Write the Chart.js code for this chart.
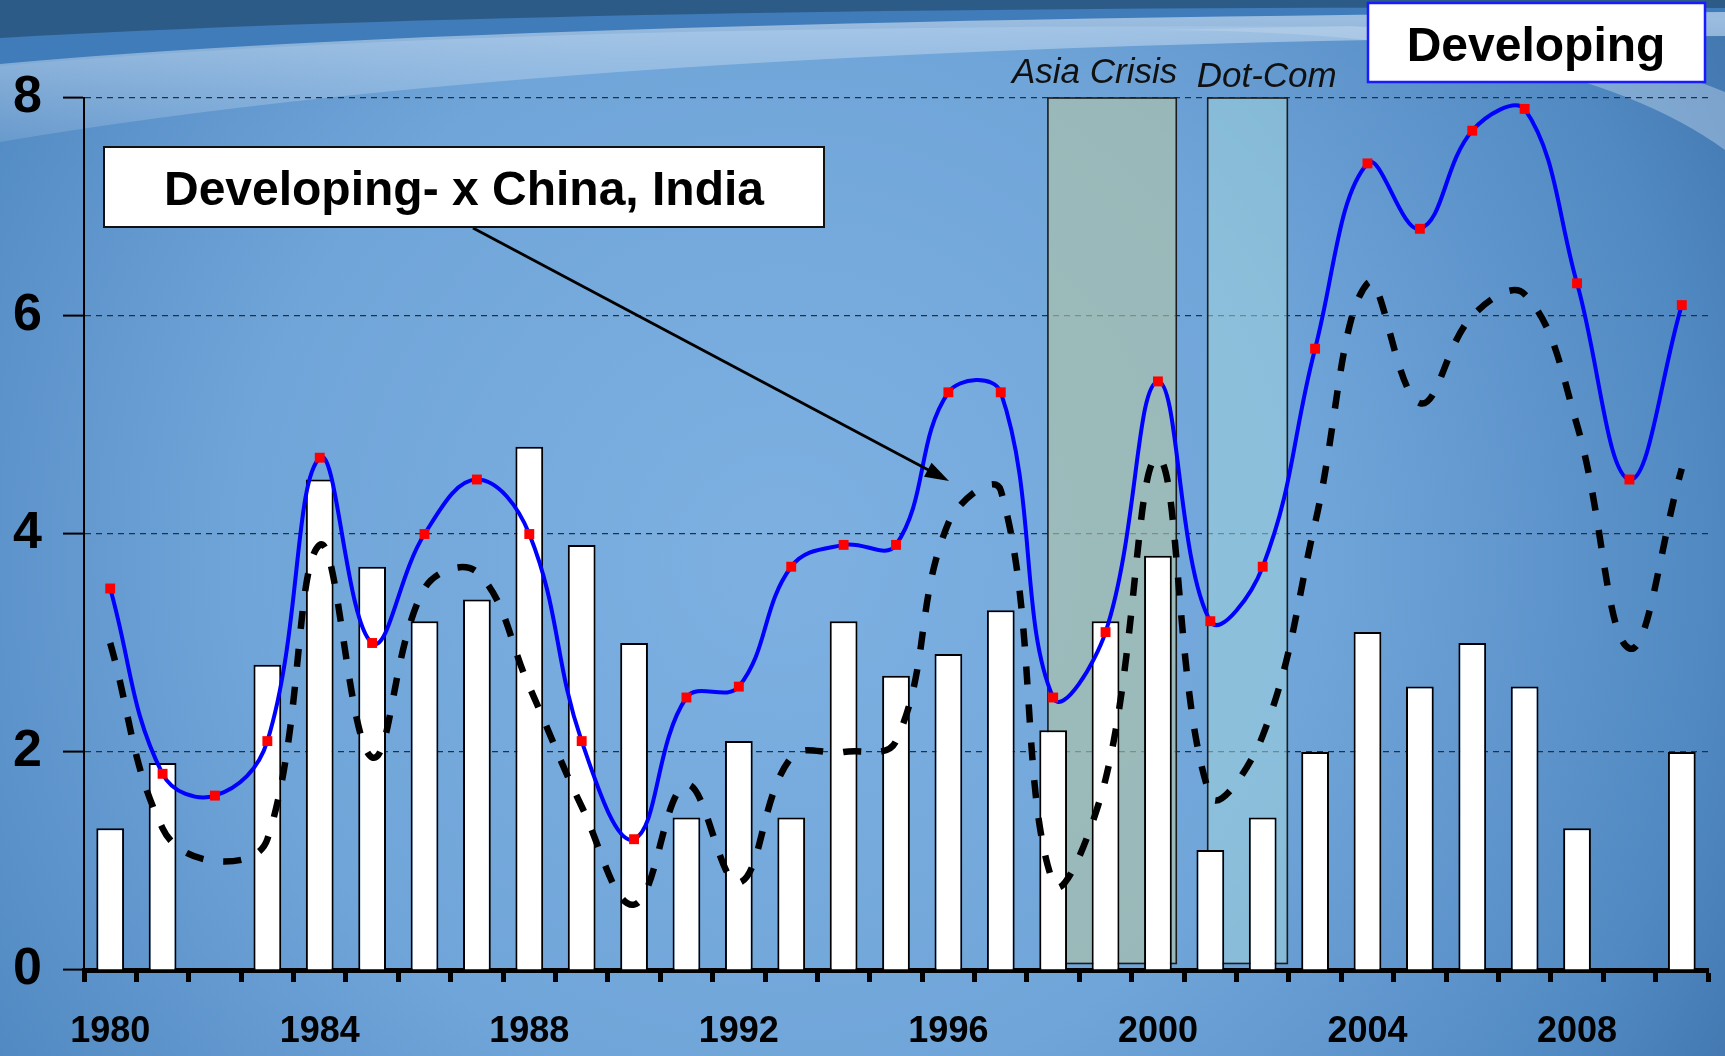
<!DOCTYPE html>
<html><head><meta charset="utf-8">
<script src="https://cdn.jsdelivr.net/npm/chart.js@4/dist/chart.umd.min.js"></script>
<style>html,body{margin:0;padding:0;background:#6a9fd4;overflow:hidden}canvas{display:block}</style>
</head><body>
<canvas id="c" width="1725" height="1056"></canvas>
<script>
// ---------- data ----------
const years = ['1980','1981','1982','1983','1984','1985','1986','1987','1988','1989',
               '1990','1991','1992','1993','1994','1995','1996','1997','1998','1999',
               '2000','2001','2002','2003','2004','2005','2006','2007','2008','2009','2010'];
const barValues = [1.3, 1.9, null, 2.8, 4.5, 3.7, 3.2, 3.4, 4.8, 3.9,
                   3.0, 1.4, 2.1, 1.4, 3.2, 2.7, 2.9, 3.3, 2.2, 3.2,
                   3.8, 1.1, 1.4, 2.0, 3.1, 2.6, 3.0, 2.6, 1.3, null, 2.0];
const developing = [3.5, 1.8, 1.6, 2.1, 4.7, 3.0, 4.0, 4.5, 4.0, 2.1,
                    1.2, 2.5, 2.6, 3.7, 3.9, 3.9, 5.3, 5.3, 2.5, 3.1,
                    5.4, 3.2, 3.7, 5.7, 7.4, 6.8, 7.7, 7.9, 6.3, 4.5, 6.1];
const devExChinaIndia = [3.0, 1.3, 1.0, 1.2, 3.9, 1.95, 3.5, 3.65, 2.6, 1.5,
                         0.6, 1.7, 0.8, 1.95, 2.0, 2.1, 4.1, 4.4, 0.8, 1.75,
                         4.7, 1.6, 2.15, 4.1, 6.3, 5.2, 6.0, 6.2, 5.0, 2.95, 4.6];
const yTicks = [0, 2, 4, 6, 8];
const labelEvery = 4;
const crisisNames = ['Asia Crisis', 'Dot-Com'];
const crisisFrom = [1997.9, 2000.95];
const crisisTo = [2000.35, 2002.47];
const crisisTop = [8, 8];
const annotationText = 'Developing- x China, India';
const titleText = 'Developing';

// ---------- styles ----------
const FONT = '"Liberation Sans", Arial, sans-serif';
const crisisFill = ['rgba(176,196,168,0.64)', 'rgba(160,212,218,0.55)'];

const bgPlugin = {
  id: 'bg',
  beforeDraw(chart) {
    const ctx = chart.ctx, W = chart.width, H = chart.height;
    ctx.save();
    const g = ctx.createRadialGradient(780, 560, 40, 780, 560, 1150);
    g.addColorStop(0, '#7db0e1');
    g.addColorStop(0.45, '#70a5d9');
    g.addColorStop(0.8, '#5189c2');
    g.addColorStop(1, '#3c70a8');
    ctx.fillStyle = g; ctx.fillRect(0, 0, W, H);
    // medium strip
    ctx.beginPath(); ctx.moveTo(0, 0); ctx.lineTo(W, 0); ctx.lineTo(W, 30);
    ctx.quadraticCurveTo(600, 14, 0, 66); ctx.closePath();
    ctx.fillStyle = '#3f7cb9'; ctx.fill();
    // dark band
    ctx.beginPath(); ctx.moveTo(0, 0); ctx.lineTo(W, 0); ctx.lineTo(W, 8);
    ctx.quadraticCurveTo(600, 4, 0, 38); ctx.closePath();
    ctx.fillStyle = '#2d5b88'; ctx.fill();
    // light swoosh
    ctx.beginPath(); ctx.moveTo(0, 64); ctx.quadraticCurveTo(500, 18, W, 12);
    ctx.lineTo(W, 36); ctx.quadraticCurveTo(600, 40, 0, 142); ctx.closePath();
    const g2 = ctx.createLinearGradient(0, 20, 0, 140);
    g2.addColorStop(0, 'rgba(185,210,235,0.75)');
    g2.addColorStop(1, 'rgba(170,200,232,0.25)');
    ctx.fillStyle = g2; ctx.fill();
    // right arc
    ctx.beginPath(); ctx.moveTo(1150, 30); ctx.quadraticCurveTo(1560, 30, W, 150);
    ctx.lineTo(W, 92); ctx.quadraticCurveTo(1600, 40, 1350, 26); ctx.closePath();
    ctx.fillStyle = 'rgba(190,212,236,0.45)'; ctx.fill();
    ctx.restore();
  }
};

const annotPlugin = {
  id: 'annot',
  beforeDatasetsDraw(chart) {
    const {ctx, scales: {x, y}} = chart;
    const y0year = Number(years[0]);
    ctx.save();
    crisisFrom.forEach((f, i) => {
      const xa = x.getPixelForValue(f - y0year);
      const xb = x.getPixelForValue(crisisTo[i] - y0year);
      const ya = y.getPixelForValue(crisisTop[i]);
      const yb = y.getPixelForValue(0.06);
      ctx.fillStyle = crisisFill[i];
      ctx.fillRect(xa, ya, xb - xa, yb - ya);
      ctx.strokeStyle = '#1c1c1c'; ctx.lineWidth = 1.6;
      ctx.strokeRect(xa, ya, xb - xa, yb - ya);
    });
    ctx.font = 'italic 35px ' + FONT;
    ctx.fillStyle = '#111';
    ctx.textBaseline = 'alphabetic';
    ctx.textAlign = 'right';
    ctx.fillText(crisisNames[0], x.getPixelForValue(crisisTo[0] - y0year) + 1, 83);
    ctx.textAlign = 'left';
    ctx.fillText(crisisNames[1], x.getPixelForValue(crisisFrom[1] - y0year) - 11, 87);
    ctx.restore();
  },
  afterDatasetsDraw(chart) {
    const ctx = chart.ctx;
    ctx.save();
    // arrow
    const ax0 = 473, ay0 = 228, ax1 = 949, ay1 = 481;
    const ang = Math.atan2(ay1 - ay0, ax1 - ax0);
    ctx.strokeStyle = '#000'; ctx.lineWidth = 2.8;
    ctx.beginPath(); ctx.moveTo(ax0, ay0);
    ctx.lineTo(ax1 - 18 * Math.cos(ang), ay1 - 18 * Math.sin(ang)); ctx.stroke();
    ctx.beginPath();
    ctx.moveTo(ax1, ay1);
    ctx.lineTo(ax1 - 24 * Math.cos(ang) + 8 * Math.sin(ang), ay1 - 24 * Math.sin(ang) - 8 * Math.cos(ang));
    ctx.lineTo(ax1 - 24 * Math.cos(ang) - 8 * Math.sin(ang), ay1 - 24 * Math.sin(ang) + 8 * Math.cos(ang));
    ctx.closePath(); ctx.fillStyle = '#000'; ctx.fill();
    // annotation box
    ctx.fillStyle = '#fff'; ctx.fillRect(104, 147, 720, 80);
    ctx.strokeStyle = '#111'; ctx.lineWidth = 2; ctx.strokeRect(104, 147, 720, 80);
    ctx.fillStyle = '#000'; ctx.font = 'bold 48px ' + FONT;
    ctx.textAlign = 'center'; ctx.textBaseline = 'alphabetic';
    ctx.fillText(annotationText, 464, 205);
    // title box
    ctx.fillStyle = '#fff'; ctx.fillRect(1368, 3, 337, 79);
    ctx.strokeStyle = '#1a1aff'; ctx.lineWidth = 2.5; ctx.strokeRect(1368, 3, 337, 79);
    ctx.fillStyle = '#000'; ctx.font = 'bold 48px ' + FONT;
    ctx.fillText(titleText, 1536, 61);
    ctx.restore();
  }
};

new Chart(document.getElementById('c'), {
  type: 'bar',
  data: {
    labels: years,
    datasets: [
      { type: 'line', label: 'Developing', data: developing, order: 1,
        borderColor: '#0000ff', borderWidth: 4, tension: 0.4, fill: false,
        pointStyle: 'rect', pointRadius: 7, pointBackgroundColor: '#ff0000',
        pointBorderWidth: 0, pointHoverRadius: 7 },
      { type: 'line', label: annotationText, data: devExChinaIndia, order: 2,
        borderColor: '#000', borderWidth: 6.5, borderDash: [18, 20], tension: 0.4,
        fill: false, pointRadius: 0 },
      { label: 'Bars', data: barValues, order: 3,
        backgroundColor: '#ffffff', borderColor: '#000', borderWidth: 2,
        barPercentage: 0.53, categoryPercentage: 1.0 }
    ]
  },
  options: {
    responsive: false, animation: false, devicePixelRatio: 1,
    layout: { padding: { left: 0, top: 98, right: 17, bottom: 0 } },
    plugins: { legend: { display: false }, tooltip: { enabled: false } },
    scales: {
      x: {
        offset: true,
        grid: { display: true, offset: true, drawOnChartArea: false, drawTicks: true,
                tickLength: 12, tickWidth: 5, tickColor: '#000' },
        border: { display: true, color: '#000', width: 5 },
        ticks: { autoSkip: false, maxRotation: 0, minRotation: 0, padding: 28,
                 color: '#000', font: { family: FONT, size: 36, weight: 'bold' },
                 callback: (v, i) => (Number(years[i]) - Number(years[0])) % labelEvery === 0 ? years[i] : '' },
        afterFit(s) { s.height = 86; }
      },
      y: {
        min: yTicks[0], max: yTicks[yTicks.length - 1],
        afterBuildTicks(s) { s.ticks = yTicks.map(v => ({ value: v })); },
        grid: { color: '#2a3038', lineWidth: 1.2, drawTicks: true, tickLength: 21,
                tickWidth: 2, tickColor: '#000', tickBorderDash: [] },
        border: { display: true, color: '#000', width: 2, dash: [6, 5] },
        ticks: { padding: 21, color: '#000', font: { family: FONT, size: 52, weight: 'bold' } },
        afterFit(s) { s.width = 84; }
      }
    }
  },
  plugins: [bgPlugin, annotPlugin]
});
</script>
</body></html>
